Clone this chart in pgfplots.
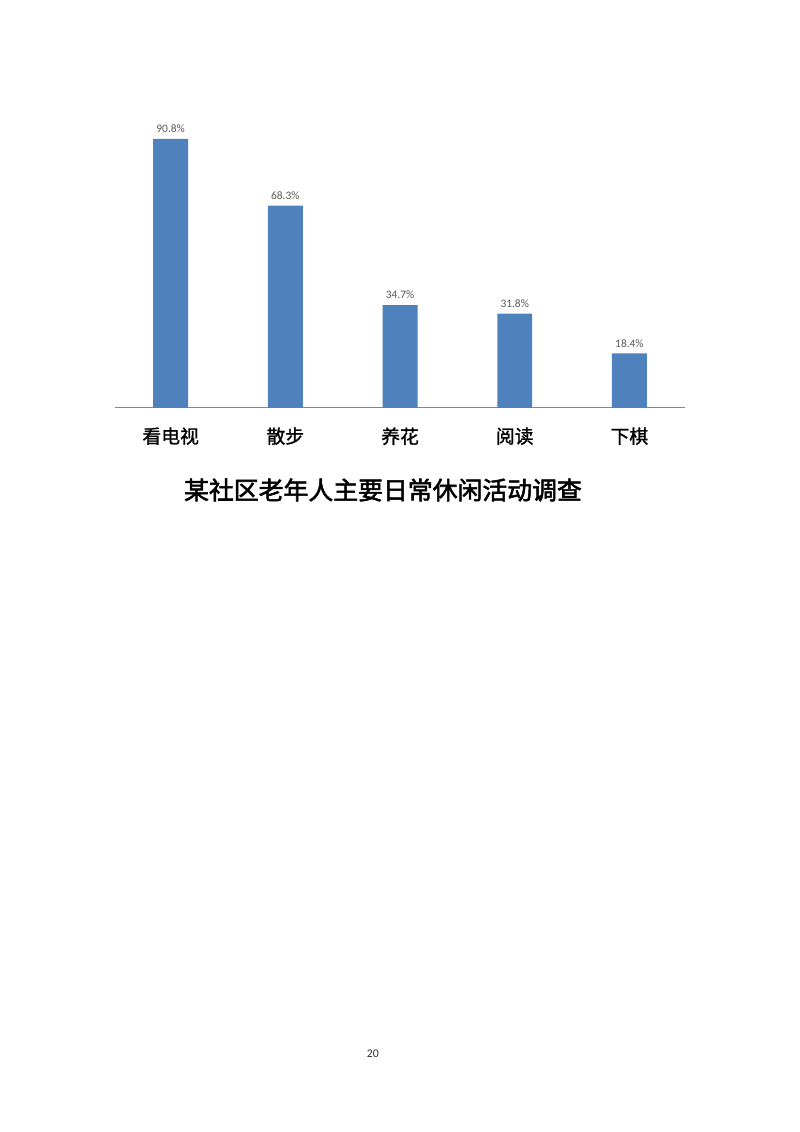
\documentclass[border=0pt]{standalone}
\usepackage{fontspec}
\usepackage{pgfplots}
\pgfplotsset{compat=1.18}
\setmainfont{Carlito}
\newfontfamily\cjk[FakeBold=1.2]{Noto Sans CJK SC}
\newfontfamily\cjktitle[FakeBold=2.2]{Noto Sans CJK SC}
\definecolor{barblue}{RGB}{79,129,189}
\definecolor{axisgray}{RGB}{134,134,134}
\definecolor{labelgray}{RGB}{89,89,89}
\begin{document}
\begin{tikzpicture}
% page of 800x1132 px, 1 px = 0.74414pt
\path[fill=white] (0,0) rectangle (595.3pt,842.4pt);
\begin{axis}[
    scale only axis,
    width=424.2pt, height=220.5pt,
    at={(85.6pt,538.8pt)}, anchor=south west,
    ybar, bar width=26pt,
    ymin=0, ymax=100,
    xmin=-0.485, xmax=4.485,
    hide y axis,
    axis x line*=bottom,
    x axis line style={axisgray, line width=0.8pt},
    xtick=data,
    xticklabels={看电视,散步,养花,阅读,下棋},
    major tick length=0pt,
    xticklabel style={font=\cjk\fontsize{14}{14}\selectfont, yshift=-11pt},
    /pgf/number format/assume math mode=true,
    nodes near coords={\pgfmathprintnumber[fixed,precision=1,fixed zerofill]{\pgfplotspointmeta}\%},
    nodes near coords style={font=\fontsize{8.5}{8.5}\selectfont, text=labelgray, yshift=1pt},
    clip=false,
]
\addplot[fill=barblue, draw=none] coordinates {
    (0,90.8) (1,68.3) (2,34.7) (3,31.8) (4,18.4)
};
\end{axis}
\begin{scope}[x=0.74414pt, y=-0.74414pt, shift={(0,842.4pt)}]
\node[font=\cjktitle\fontsize{18.5}{18.5}\selectfont] at (383,490) {某社区老年人主要日常休闲活动调查};
\node[font=\fontsize{8.8}{8.8}\selectfont, text=black!80] at (373,1054) {20};
\end{scope}
\end{tikzpicture}
\end{document}
